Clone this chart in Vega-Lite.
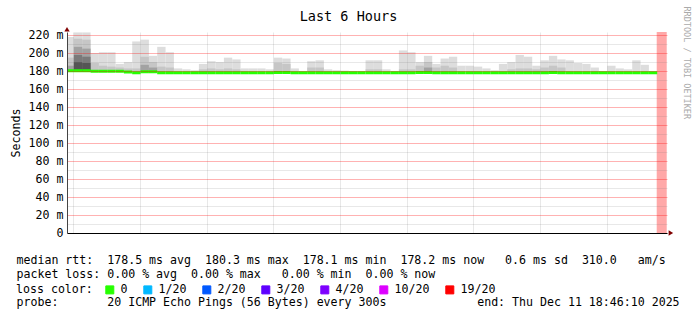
{
  "$schema": "https://vega.github.io/schema/vega-lite/v6.json",
  "width": 600,
  "height": 201,
  "autosize": {"type": "none"},
  "padding": {"left": 67, "top": 32, "right": 30, "bottom": 88},
  "background": "white",
  "config": {"view": {"stroke": null}, "font": "DejaVu Sans Mono"},
  "title": {"text": "Last 6 Hours", "font": "DejaVu Sans Mono", "fontSize": 13.5, "fontWeight": "normal", "color": "black", "anchor": "middle", "frame": "group", "dx": -18.5, "offset": -14, "baseline": "middle", "dy": 10},
  "datasets": {
    "smoke": [
      {"t":"2025-12-11T12:45:00Z","med":180.3,"lo":179.5,"hi":218,"h2":195,"h3":186,"loss":"0"},
      {"t":"2025-12-11T12:50:00Z","med":180.3,"lo":179.5,"hi":223,"h2":216,"h3":207,"h4":198,"h5":190,"loss":"0"},
      {"t":"2025-12-11T12:55:00Z","med":180.3,"lo":179.5,"hi":223,"h2":215,"h3":205,"h4":196,"h5":189,"loss":"0"},
      {"t":"2025-12-11T13:00:00Z","med":179.9,"lo":179.1,"hi":200,"h2":189,"loss":"0"},
      {"t":"2025-12-11T13:05:00Z","med":179.9,"lo":179.1,"hi":201,"h2":186,"loss":"0"},
      {"t":"2025-12-11T13:10:00Z","med":179.9,"lo":179.1,"hi":201,"h2":185,"loss":"0"},
      {"t":"2025-12-11T13:15:00Z","med":179.9,"lo":179.1,"hi":188,"h2":184,"loss":"0"},
      {"t":"2025-12-11T13:20:00Z","med":179.1,"lo":178.3,"hi":190,"h2":183,"loss":"0"},
      {"t":"2025-12-11T13:25:00Z","med":178.1,"lo":177.4,"hi":213,"h2":183,"loss":"0"},
      {"t":"2025-12-11T13:30:00Z","med":179.4,"lo":178.6,"hi":215,"h2":196,"h3":187,"loss":"0"},
      {"t":"2025-12-11T13:35:00Z","med":179.4,"lo":178.6,"hi":197,"h2":190,"h3":184,"loss":"0"},
      {"t":"2025-12-11T13:40:00Z","med":178.3,"lo":177.5,"hi":207,"h2":185,"loss":"0"},
      {"t":"2025-12-11T13:45:00Z","med":178.3,"lo":177.5,"hi":201,"h2":184,"loss":"0"},
      {"t":"2025-12-11T13:50:00Z","med":178.3,"lo":177.5,"hi":183,"loss":"0"},
      {"t":"2025-12-11T13:55:00Z","med":178.2,"lo":177.4,"hi":182,"loss":"0"},
      {"t":"2025-12-11T14:00:00Z","med":178.2,"lo":177.4,"hi":181,"loss":"0"},
      {"t":"2025-12-11T14:05:00Z","med":178.3,"lo":177.5,"hi":188,"h2":182,"loss":"0"},
      {"t":"2025-12-11T14:10:00Z","med":178.3,"lo":177.5,"hi":191,"h2":183,"loss":"0"},
      {"t":"2025-12-11T14:15:00Z","med":178.2,"lo":177.4,"hi":190,"h2":182,"loss":"0"},
      {"t":"2025-12-11T14:20:00Z","med":178.3,"lo":177.5,"hi":195,"h2":183,"loss":"0"},
      {"t":"2025-12-11T14:25:00Z","med":178.3,"lo":177.5,"hi":193,"h2":182,"loss":"0"},
      {"t":"2025-12-11T14:30:00Z","med":178.2,"lo":177.4,"hi":183,"loss":"0"},
      {"t":"2025-12-11T14:35:00Z","med":178.2,"lo":177.4,"hi":183,"loss":"0"},
      {"t":"2025-12-11T14:40:00Z","med":178.2,"lo":177.4,"hi":183,"loss":"0"},
      {"t":"2025-12-11T14:45:00Z","med":178.2,"lo":177.4,"hi":182,"loss":"0"},
      {"t":"2025-12-11T14:50:00Z","med":178.4,"lo":177.6,"hi":195,"h2":189,"loss":"0"},
      {"t":"2025-12-11T14:55:00Z","med":178.4,"lo":177.6,"hi":194,"h2":188,"loss":"0"},
      {"t":"2025-12-11T15:00:00Z","med":178.2,"lo":177.4,"hi":183,"loss":"0"},
      {"t":"2025-12-11T15:05:00Z","med":178.2,"lo":177.4,"hi":180,"loss":"0"},
      {"t":"2025-12-11T15:10:00Z","med":178.3,"lo":177.5,"hi":191,"h2":184,"loss":"0"},
      {"t":"2025-12-11T15:15:00Z","med":178.3,"lo":177.5,"hi":192,"h2":184,"loss":"0"},
      {"t":"2025-12-11T15:20:00Z","med":178.2,"lo":177.4,"hi":182,"loss":"0"},
      {"t":"2025-12-11T15:25:00Z","med":178.2,"lo":177.4,"hi":181,"loss":"0"},
      {"t":"2025-12-11T15:30:00Z","med":178.2,"lo":177.4,"hi":180.5,"loss":"0"},
      {"t":"2025-12-11T15:35:00Z","med":178.2,"lo":177.4,"hi":180,"loss":"0"},
      {"t":"2025-12-11T15:40:00Z","med":178.2,"lo":177.4,"hi":180,"loss":"0"},
      {"t":"2025-12-11T15:45:00Z","med":178.3,"lo":177.5,"hi":192,"h2":182,"loss":"0"},
      {"t":"2025-12-11T15:50:00Z","med":178.3,"lo":177.5,"hi":192,"h2":182,"loss":"0"},
      {"t":"2025-12-11T15:55:00Z","med":178.2,"lo":177.4,"hi":182,"loss":"0"},
      {"t":"2025-12-11T16:00:00Z","med":178.2,"lo":177.4,"hi":180,"loss":"0"},
      {"t":"2025-12-11T16:05:00Z","med":178.3,"lo":177.5,"hi":203,"h2":182,"loss":"0"},
      {"t":"2025-12-11T16:10:00Z","med":178.3,"lo":177.5,"hi":201,"h2":182,"loss":"0"},
      {"t":"2025-12-11T16:15:00Z","med":178.4,"lo":177.6,"hi":190,"h2":186,"loss":"0"},
      {"t":"2025-12-11T16:20:00Z","med":178.5,"lo":177.7,"hi":197,"h2":190,"h3":184,"loss":"0"},
      {"t":"2025-12-11T16:25:00Z","med":178.3,"lo":177.5,"hi":188,"h2":184,"loss":"0"},
      {"t":"2025-12-11T16:30:00Z","med":178.3,"lo":177.5,"hi":194,"h2":186,"loss":"0"},
      {"t":"2025-12-11T16:35:00Z","med":178.3,"lo":177.5,"hi":196,"h2":184,"loss":"0"},
      {"t":"2025-12-11T16:40:00Z","med":178.2,"lo":177.4,"hi":186,"loss":"0"},
      {"t":"2025-12-11T16:45:00Z","med":178.2,"lo":177.4,"hi":186,"loss":"0"},
      {"t":"2025-12-11T16:50:00Z","med":178.2,"lo":177.4,"hi":185,"loss":"0"},
      {"t":"2025-12-11T16:55:00Z","med":178.2,"lo":177.4,"hi":183,"loss":"0"},
      {"t":"2025-12-11T17:00:00Z","med":178.2,"lo":177.4,"hi":181,"loss":"0"},
      {"t":"2025-12-11T17:05:00Z","med":178.2,"lo":177.4,"hi":188,"loss":"0"},
      {"t":"2025-12-11T17:10:00Z","med":178.3,"lo":177.5,"hi":190,"h2":182,"loss":"0"},
      {"t":"2025-12-11T17:15:00Z","med":178.3,"lo":177.5,"hi":198,"h2":183,"loss":"0"},
      {"t":"2025-12-11T17:20:00Z","med":178.3,"lo":177.5,"hi":196,"h2":183,"loss":"0"},
      {"t":"2025-12-11T17:25:00Z","med":178.2,"lo":177.4,"hi":186,"h2":182,"loss":"0"},
      {"t":"2025-12-11T17:30:00Z","med":178.3,"lo":177.5,"hi":192,"h2":184,"loss":"0"},
      {"t":"2025-12-11T17:35:00Z","med":178.4,"lo":177.6,"hi":197,"h2":186,"loss":"0"},
      {"t":"2025-12-11T17:40:00Z","med":178.3,"lo":177.5,"hi":193,"h2":184,"loss":"0"},
      {"t":"2025-12-11T17:45:00Z","med":178.2,"lo":177.4,"hi":192,"loss":"0"},
      {"t":"2025-12-11T17:50:00Z","med":178.2,"lo":177.4,"hi":189,"loss":"0"},
      {"t":"2025-12-11T17:55:00Z","med":178.2,"lo":177.4,"hi":188,"loss":"0"},
      {"t":"2025-12-11T18:00:00Z","med":178.2,"lo":177.4,"hi":184,"loss":"0"},
      {"t":"2025-12-11T18:05:00Z","med":178.2,"lo":177.4,"hi":180,"loss":"0"},
      {"t":"2025-12-11T18:10:00Z","med":178.2,"lo":177.4,"hi":186,"loss":"0"},
      {"t":"2025-12-11T18:15:00Z","med":178.2,"lo":177.4,"hi":183,"loss":"0"},
      {"t":"2025-12-11T18:20:00Z","med":178.2,"lo":177.4,"hi":182,"loss":"0"},
      {"t":"2025-12-11T18:25:00Z","med":178.2,"lo":177.4,"hi":192,"loss":"0"},
      {"t":"2025-12-11T18:30:00Z","med":178.2,"lo":177.4,"hi":187,"loss":"0"},
      {"t":"2025-12-11T18:35:00Z","med":178.2,"lo":177.4,"hi":180,"loss":"0"}
    ],
    "unk": [
      {"t":"2025-12-11T18:40:00Z","t2":"2025-12-11T18:46:00Z","top":223.5}
    ]
  },
  "resolve": {"axis": {"y": "independent"}},
  "layer": [
    {
      "data": {"name": "smoke"},
      "mark": {"type": "rect", "color": "#dddddd", "clip": true},
      "encoding": {
        "x": {
          "field": "t", "type": "temporal",
          "timeUnit": {"unit": "utcyearmonthdatehoursminutes", "step": 5},
          "scale": {"type": "utc", "domain": [1765457170000, 1765478770000], "nice": false},
          "axis": {
            "title": ["median\u00a0rtt:\u00a0\u00a0178.5\u00a0ms\u00a0avg\u00a0\u00a0180.3\u00a0ms\u00a0max\u00a0\u00a0178.1\u00a0ms\u00a0min\u00a0\u00a0178.2\u00a0ms\u00a0now\u00a0\u00a0\u00a00.6\u00a0ms\u00a0sd\u00a0\u00a0310.0\u00a0\u00a0\u00a0am/s", "packet\u00a0loss:\u00a00.00\u00a0%\u00a0avg\u00a0\u00a00.00\u00a0%\u00a0max\u00a0\u00a0\u00a00.00\u00a0%\u00a0min\u00a0\u00a00.00\u00a0%\u00a0now", "\u200b", "probe:\u00a0\u00a0\u00a0\u00a0\u00a0\u00a0\u00a020\u00a0ICMP\u00a0Echo\u00a0Pings\u00a0(56\u00a0Bytes)\u00a0every\u00a0300s\u00a0\u00a0\u00a0\u00a0\u00a0\u00a0\u00a0\u00a0\u00a0\u00a0\u00a0\u00a0\u00a0end:\u00a0Thu\u00a0Dec\u00a011\u00a018:46:10\u00a02025"],
            "titleFont": "DejaVu Sans Mono", "titleFontSize": 11.6, "titleFontWeight": "normal", "titleColor": "black",
            "titleAlign": "left", "titleBaseline": "top", "titleX": -51, "titleY": 21.5, "titleLineHeight": 14,
            "values": [1765457400000,1765458000000,1765458600000,1765459200000,1765459800000,1765460400000,1765461000000,1765461600000,1765462200000,1765462800000,1765463400000,1765464000000,1765464600000,1765465200000,1765465800000,1765466400000,1765467000000,1765467600000,1765468200000,1765468800000,1765469400000,1765470000000,1765470600000,1765471200000,1765471800000,1765472400000,1765473000000,1765473600000,1765474200000,1765474800000,1765475400000,1765476000000,1765476600000,1765477200000,1765477800000,1765478400000],
            "labelExpr": "utcminutes(datum.value) == 0 ? utcFormat(datum.value, '%H:%M') : ''",
            "labelFont": "DejaVu Sans Mono", "labelFontSize": 11.6, "labelColor": "black", "labelPadding": 4,
            "labelOverlap": false, "labelFlush": false,
            "ticks": false, "domainColor": "black", "domainWidth": 1,
            "grid": true, "gridOpacity": 1,
            "gridColor": {"condition": {"test": "utcminutes(datum.value) == 0", "value": "rgba(255,0,0,0.3)"}, "value": "rgba(110,110,110,0.16)"},
            "zindex": 1
          }
        },
        "y": {
          "field": "lo", "type": "quantitative",
          "scale": {"domain": [0, 223.5], "nice": false},
          "axis": {
            "title": "Seconds", "titleFont": "DejaVu Sans Mono", "titleFontSize": 11.6, "titleFontWeight": "normal", "titleColor": "black", "titlePadding": 7,
            "values": [0,10,20,30,40,50,60,70,80,90,100,110,120,130,140,150,160,170,180,190,200,210,220],
            "labelExpr": "datum.value % 20 == 0 ? (datum.value == 0 ? '0' : datum.value + ' m') : ''",
            "labelFont": "DejaVu Sans Mono", "labelFontSize": 11.6, "labelColor": "black", "labelPadding": 4,
            "labelOverlap": false, "labelFlush": false,
            "ticks": false, "domainColor": "#444444",
            "grid": true, "gridOpacity": 1,
            "gridColor": {"condition": {"test": "datum.value % 20 == 0", "value": "rgba(255,0,0,0.3)"}, "value": "rgba(110,110,110,0.16)"},
            "zindex": 1
          }
        },
        "y2": {"field": "hi"}
      }
    },
    {
      "data": {"name": "smoke"},
      "transform": [{"filter": "isValid(datum.h2)"}],
      "mark": {"type": "rect", "color": "#c6c6c6", "clip": true},
      "encoding": {
        "x": {"field": "t", "type": "temporal", "timeUnit": {"unit": "utcyearmonthdatehoursminutes", "step": 5}},
        "y": {"field": "lo", "type": "quantitative", "axis": null},
        "y2": {"field": "h2"}
      }
    },
    {
      "data": {"name": "smoke"},
      "transform": [{"filter": "isValid(datum.h3)"}],
      "mark": {"type": "rect", "color": "#a2a2a2", "clip": true},
      "encoding": {
        "x": {"field": "t", "type": "temporal", "timeUnit": {"unit": "utcyearmonthdatehoursminutes", "step": 5}},
        "y": {"field": "lo", "type": "quantitative", "axis": null},
        "y2": {"field": "h3"}
      }
    },
    {
      "data": {"name": "smoke"},
      "transform": [{"filter": "isValid(datum.h4)"}],
      "mark": {"type": "rect", "color": "#7a7a7a", "clip": true},
      "encoding": {
        "x": {"field": "t", "type": "temporal", "timeUnit": {"unit": "utcyearmonthdatehoursminutes", "step": 5}},
        "y": {"field": "lo", "type": "quantitative", "axis": null},
        "y2": {"field": "h4"}
      }
    },
    {
      "data": {"name": "smoke"},
      "transform": [{"filter": "isValid(datum.h5)"}],
      "mark": {"type": "rect", "color": "#555555", "clip": true},
      "encoding": {
        "x": {"field": "t", "type": "temporal", "timeUnit": {"unit": "utcyearmonthdatehoursminutes", "step": 5}},
        "y": {"field": "lo", "type": "quantitative", "axis": null},
        "y2": {"field": "h5"}
      }
    },
    {
      "data": {"name": "unk"},
      "mark": {"type": "rect", "color": "#ffa8a8"},
      "encoding": {
        "x": {"field": "t", "type": "temporal"},
        "x2": {"field": "t2"},
        "y": {
          "field": "top", "type": "quantitative",
          "axis": {
            "orient": "right", "labels": false, "ticks": false, "domain": false, "grid": false,
            "title": "RRDTOOL / TOBI OETIKER", "titleAngle": 90, "titleFont": "DejaVu Sans Mono", "titleFontSize": 8.5,
            "titleFontWeight": "normal", "titleColor": "#aaaaaa", "titleAlign": "left", "titleBaseline": "middle",
            "titleX": 19, "titleY": -26
          }
        },
        "y2": {"datum": 0}
      }
    },
    {
      "data": {"name": "smoke"},
      "mark": {"type": "rect", "strokeWidth": 3, "clip": true},
      "encoding": {
        "x": {"field": "t", "type": "temporal", "timeUnit": {"unit": "utcyearmonthdatehoursminutes", "step": 5}},
        "y": {"field": "med", "type": "quantitative", "axis": null},
        "y2": {"field": "med"},
        "fill": {
          "field": "loss", "type": "nominal",
          "scale": {"domain": ["0","1/20","2/20","3/20","4/20","10/20","19/20"], "range": ["#26ff00","#00b8ff","#0059ff","#5e00ff","#7e00ff","#dd00ff","#ff0000"]},
          "legend": {
            "orient": "none", "legendX": -51, "legendY": 252, "direction": "horizontal", "columns": 7,
            "title": "loss color:", "titleOrient": "left", "titleFont": "DejaVu Sans Mono", "titleFontSize": 11.6,
            "titleFontWeight": "normal", "titleColor": "black", "titlePadding": 11, "titleBaseline": "top", "titleAnchor": "start",
            "labelFont": "DejaVu Sans Mono", "labelFontSize": 11.6, "labelColor": "black", "labelOffset": 5,
            "symbolType": "square", "symbolSize": 64, "symbolStrokeColor": "black", "symbolStrokeWidth": 1, "symbolOpacity": 1,
            "columnPadding": 13
          }
        },
        "stroke": {
          "field": "loss", "type": "nominal",
          "scale": {"domain": ["0","1/20","2/20","3/20","4/20","10/20","19/20"], "range": ["#26ff00","#00b8ff","#0059ff","#5e00ff","#7e00ff","#dd00ff","#ff0000"]},
          "legend": null
        }
      }
    },
    {
      "data": {"values": [{}]},
      "mark": {"type": "point", "shape": "triangle-up", "filled": true, "color": "#800000", "size": 28, "opacity": 1},
      "encoding": {
        "x": {"datum": 1765457170000, "type": "temporal"},
        "y": {"datum": 226.5, "type": "quantitative", "axis": null}
      }
    },
    {
      "data": {"values": [{}]},
      "mark": {"type": "point", "shape": "triangle-right", "filled": true, "color": "#800000", "size": 28, "opacity": 1},
      "encoding": {
        "x": {"datum": 1765478910000, "type": "temporal"},
        "y": {"datum": 0, "type": "quantitative", "axis": null}
      }
    }
  ]
}
